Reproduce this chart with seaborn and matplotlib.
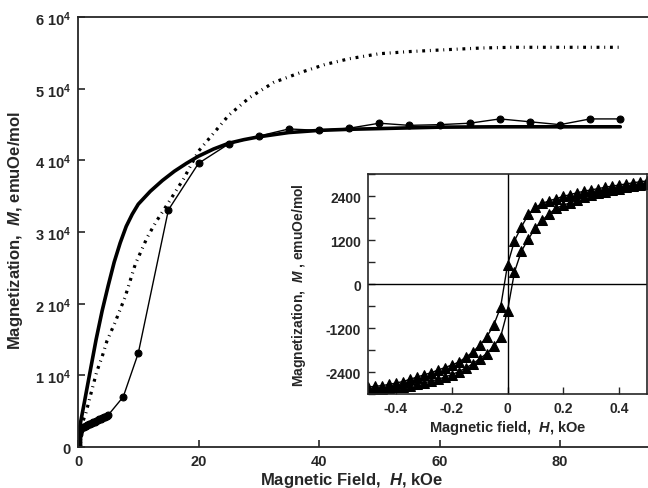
import numpy as np
import pandas as pd
import matplotlib
matplotlib.use("Agg")
import matplotlib.pyplot as plt
import seaborn as sns
from matplotlib.ticker import FuncFormatter, MultipleLocator

# ---- main panel: M(H) up to 90 kOe
h_fit = [0, 0.3, 1, 2, 3, 4, 5, 6, 7, 8, 9, 10, 12, 14, 16, 18, 20, 22.5, 25,
         27.5, 30, 35, 40, 45, 50, 55, 60, 70, 80, 90]
m_fit = [1800, 2900, 6000, 10500, 15000, 19000, 22500, 25800, 28500, 30800,
         32500, 33900, 35700, 37200, 38500, 39600, 40600, 41600, 42400, 42900,
         43300, 43900, 44200, 44350, 44450, 44550, 44650, 44700, 44700, 44700]

h_dot = [0, 0.5, 1.2, 2, 3.1, 4, 4.8, 6.1, 7.8, 9.5, 11.5, 13, 15, 17.5, 20,
         22.5, 25, 28.5, 32.5, 37, 41, 45, 50, 55, 62, 67, 72, 79, 85, 90]
m_dot = [2000, 3000, 4400, 7000, 10500, 12600, 14800, 17300, 20900, 25500,
         29300, 31500, 34100, 37400, 41300, 43800, 46300, 48800, 50900, 52300,
         53400, 54200, 54900, 55200, 55500, 55700, 55800, 55800, 55800, 55800]

h_exp = [0, 0, 0.02, 0.05, 0.1, 0.15, 0.25, 0.5, 0.75, 1, 1.25, 1.5, 1.75, 2,
         2.25, 2.5, 2.75, 3, 3.25, 3.5, 3.75, 4, 4.25, 4.5, 4.75, 5, 7.5, 10,
         15, 20, 25, 30, 35, 40, 45, 50, 55, 60, 65, 70, 75, 80, 85, 90]
m_exp = [300, 700, 1100, 1500, 1800, 2100, 2400, 2600, 2750, 2850, 2950, 3050,
         3150, 3250, 3350, 3450, 3550, 3650, 3750, 3850, 3950, 4050, 4150, 4250,
         4350, 4450, 7000, 13100, 33100, 39600, 42300, 43400, 44400, 44200,
         44500, 45200, 44900, 45000, 45200, 45800, 45400, 45000, 45800, 45800]

# ---- inset: hysteresis loop (kOe, emuOe/mol)
h_down = [0.5, 0.475, 0.45, 0.425, 0.4, 0.375, 0.35, 0.325, 0.3, 0.275, 0.25,
          0.225, 0.2, 0.175, 0.15, 0.125, 0.1, 0.075, 0.05, 0.025, 0.0,
          -0.025, -0.05, -0.075, -0.1, -0.125, -0.15, -0.175, -0.2, -0.225,
          -0.25, -0.275, -0.3, -0.325, -0.35, -0.375, -0.4, -0.425, -0.45,
          -0.475, -0.5]
m_down = [2810, 2790, 2760, 2730, 2700, 2670, 2640, 2600, 2570, 2530, 2490,
          2440, 2390, 2330, 2270, 2200, 2090, 1900, 1560, 1180, 520,
          -640, -1130, -1450, -1670, -1860, -2000, -2130, -2210, -2280,
          -2350, -2420, -2480, -2540, -2600, -2660, -2700, -2740, -2770,
          -2790, -2810]

h_up = [-0.5, -0.475, -0.45, -0.425, -0.4, -0.375, -0.35, -0.325, -0.3, -0.275,
        -0.25, -0.225, -0.2, -0.175, -0.15, -0.125, -0.1, -0.075, -0.05, -0.025,
        0.0, 0.025, 0.05, 0.075, 0.1, 0.125, 0.15, 0.175, 0.2, 0.225, 0.25,
        0.275, 0.3, 0.325, 0.35, 0.375, 0.4, 0.425, 0.45, 0.475, 0.5]
m_up = [-2900, -2880, -2860, -2840, -2820, -2800, -2770, -2740, -2700, -2650,
        -2600, -2540, -2470, -2390, -2290, -2180, -2040, -1900, -1700, -1450,
        -730, 330, 900, 1230, 1530, 1740, 1920, 2070, 2150, 2220, 2300,
        2360, 2420, 2470, 2520, 2560, 2600, 2640, 2670, 2700, 2740]

sns.set_style("ticks")
plt.rcParams['font.family'] = ['Liberation Sans', 'DejaVu Sans']
plt.rcParams['font.weight'] = 'bold'
plt.rcParams['mathtext.fontset'] = 'custom'
plt.rcParams['mathtext.rm'] = 'Liberation Sans:bold'
plt.rcParams['mathtext.it'] = 'Liberation Sans:bold:italic'

fig = plt.figure(figsize=(6.48, 4.89), dpi=100)
ax = fig.add_axes([0.1204, 0.0838, 0.8796, 0.879])

sns.lineplot(x=h_fit, y=m_fit, ax=ax, color='black', lw=2.6, sort=False,
             estimator=None)
sns.lineplot(x=h_dot, y=m_dot, ax=ax, color='black', lw=2.3, sort=False,
             estimator=None, linestyle=(0, (0.9, 1.5, 0.3, 1.5)))
sns.lineplot(x=h_exp, y=m_exp, ax=ax, color='black', lw=1.0, sort=False,
             estimator=None, marker='o', ms=5, mec='black', mfc='black')

ax.set_xlim(0, 94.6)
ax.set_ylim(0, 60000)
ax.xaxis.set_major_locator(MultipleLocator(20))
ax.yaxis.set_major_locator(MultipleLocator(10000))
ax.yaxis.set_major_formatter(FuncFormatter(
    lambda v, p: '0' if v == 0 else f'{int(round(v / 1e4))} 10$^{{\\mathrm{{4}}}}$'))
ax.tick_params(direction='in', length=5, width=1.2, labelsize=10.5, pad=5)
for s in ['left', 'bottom', 'top']:
    ax.spines[s].set_linewidth(1.3)
ax.spines['right'].set_visible(False)

ax.set_xlabel('Magnetic Field,  $\\mathit{H}$, kOe', fontsize=12, fontweight='bold')
ax.set_ylabel('Magnetization,  $\\mathit{M}$, emuOe/mol', fontsize=12, fontweight='bold')
ax.xaxis.set_label_coords(0.48, -0.053)
ax.yaxis.set_label_coords(-0.093, 0.505)

# ---- inset
ins = fig.add_axes([0.5679, 0.1922, 0.4306, 0.4499])
ins.set_facecolor('white')
ins.axhline(0, color='black', lw=1.0)
ins.axvline(0, color='black', lw=1.0)
sns.lineplot(x=h_down, y=m_down, ax=ins, color='black', lw=1.0, sort=False,
             estimator=None, marker='^', ms=6.5, mec='black', mfc='black')
sns.lineplot(x=h_up, y=m_up, ax=ins, color='black', lw=1.0, sort=False,
             estimator=None, marker='^', ms=6.5, mec='black', mfc='black')
ins.set_xlim(-0.5, 0.5)
ins.set_ylim(-3000, 3000)
ins.xaxis.set_major_locator(MultipleLocator(0.2))
ins.yaxis.set_major_locator(MultipleLocator(1200))
ins.yaxis.set_minor_locator(MultipleLocator(600))
ins.xaxis.set_major_formatter(FuncFormatter(
    lambda v, p: '0' if abs(v) < 1e-9 else f'{v:.1f}'))
ins.yaxis.set_major_formatter(FuncFormatter(lambda v, p: f'{int(round(v))}'))
ins.tick_params(which='both', direction='in', length=5, width=1.0,
                labelsize=10, pad=5)
ins.tick_params(axis='x', which='minor', bottom=False)
for s in ins.spines.values():
    s.set_linewidth(1.2)
ins.set_xlabel('Magnetic field,  $\\mathit{H}$, kOe', fontsize=10.5,
               fontweight='bold', labelpad=2)
ins.set_ylabel('Magnetization,  $\\mathit{M}$ , emuOe/mol', fontsize=10,
               fontweight='bold')
ins.yaxis.set_label_coords(-0.215, 0.5)

fig.savefig('out.png', dpi=100)
